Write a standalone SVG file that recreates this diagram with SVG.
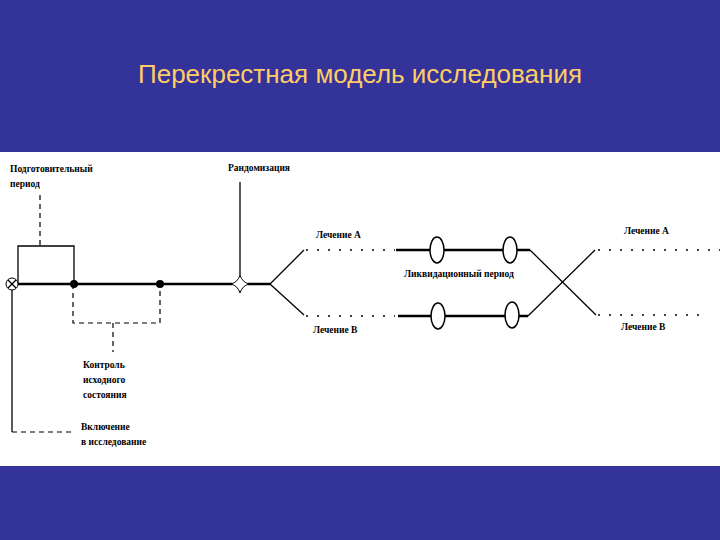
<svg xmlns="http://www.w3.org/2000/svg" width="720" height="540" viewBox="0 0 720 540">
<style>
.t{font-family:"Liberation Serif",serif;font-size:9.5px;font-weight:bold;fill:#000}
.s{stroke:#000;stroke-width:1.3;fill:none}
.th{stroke:#000;stroke-width:2.5;fill:none}
.d{stroke:#000;stroke-width:1.2;fill:none;stroke-dasharray:5 4}
.dt{stroke:#000;stroke-width:1.3;fill:none;stroke-dasharray:2 9}
</style>
<rect width="720" height="540" fill="#333399"/>
<text x="360" y="83" text-anchor="middle" font-family="Liberation Sans,Arial,sans-serif" font-size="26" fill="#FFCC66">Перекрестная модель исследования</text>
<rect x="0" y="152" width="720" height="314" fill="#fff"/>
<g id="connectors">
<line class="th" x1="18" y1="284" x2="232" y2="284"/>
<line class="th" x1="248" y1="284" x2="270" y2="284"/>
<polyline class="s" points="18,284 18,246 74,246 74,284"/>
<line class="d" x1="40" y1="195" x2="40" y2="246"/>
<polyline class="d" points="73,284 73,323 160,323 160,284"/>
<line class="d" x1="113" y1="323" x2="113" y2="352"/>
<line class="s" x1="240" y1="182" x2="240" y2="275"/>
<line class="s" x1="270" y1="284" x2="304" y2="250"/>
<line class="s" x1="270" y1="284" x2="304" y2="315"/>
<line class="dt" x1="306" y1="250" x2="395" y2="250"/>
<line class="dt" x1="306" y1="316" x2="395" y2="316"/>
<line class="th" x1="396" y1="250" x2="530" y2="250"/>
<line class="th" x1="398" y1="316" x2="528" y2="316"/>
<line class="s" x1="530" y1="250" x2="596" y2="315"/>
<line class="s" x1="528" y1="316" x2="595" y2="250"/>
<line class="dt" x1="598" y1="250" x2="720" y2="250"/>
<line class="dt" x1="598" y1="315" x2="705" y2="315"/>
<line class="s" x1="12" y1="290" x2="12" y2="432"/>
<line class="d" x1="12" y1="432" x2="72" y2="432"/>
</g>
<g id="start"><circle cx="12" cy="284" r="6" fill="#fff" stroke="#000" stroke-width="1"/><path class="s" d="M8,280 L16,288 M16,280 L8,288" stroke-width="1"/></g>
<g id="dot1"><circle cx="74" cy="284" r="4" fill="#000"/></g>
<g id="dot2"><circle cx="160" cy="284" r="4" fill="#000"/></g>
<g id="random"><path d="M240,275 Q242,282 249,284 Q242,286 240,293 Q238,286 231,284 Q238,282 240,275Z" fill="#fff" stroke="#000" stroke-width="1"/></g>
<g id="ovals" fill="#fff" stroke="#000" stroke-width="1.5">
<ellipse cx="437" cy="250" rx="7" ry="13"/><ellipse cx="510" cy="250" rx="7" ry="13"/>
<ellipse cx="438" cy="316" rx="7" ry="13"/><ellipse cx="512" cy="315" rx="7" ry="13"/>
</g>
<g id="labels">
<text class="t" x="10" y="172">Подготовительный</text>
<text class="t" x="10" y="187">период</text>
<text class="t" x="228" y="171">Рандомизация</text>
<text class="t" x="316" y="238">Лечение А</text>
<text class="t" x="313" y="333">Лечение В</text>
<text class="t" x="404" y="277">Ликвидационный период</text>
<text class="t" x="624" y="234">Лечение А</text>
<text class="t" x="621" y="330">Лечение В</text>
<text class="t" x="83" y="368">Контроль</text>
<text class="t" x="83" y="383">исходного</text>
<text class="t" x="83" y="398">состояния</text>
<text class="t" x="81" y="430">Включение</text>
<text class="t" x="81" y="445">в исследование</text>
</g>
</svg>
